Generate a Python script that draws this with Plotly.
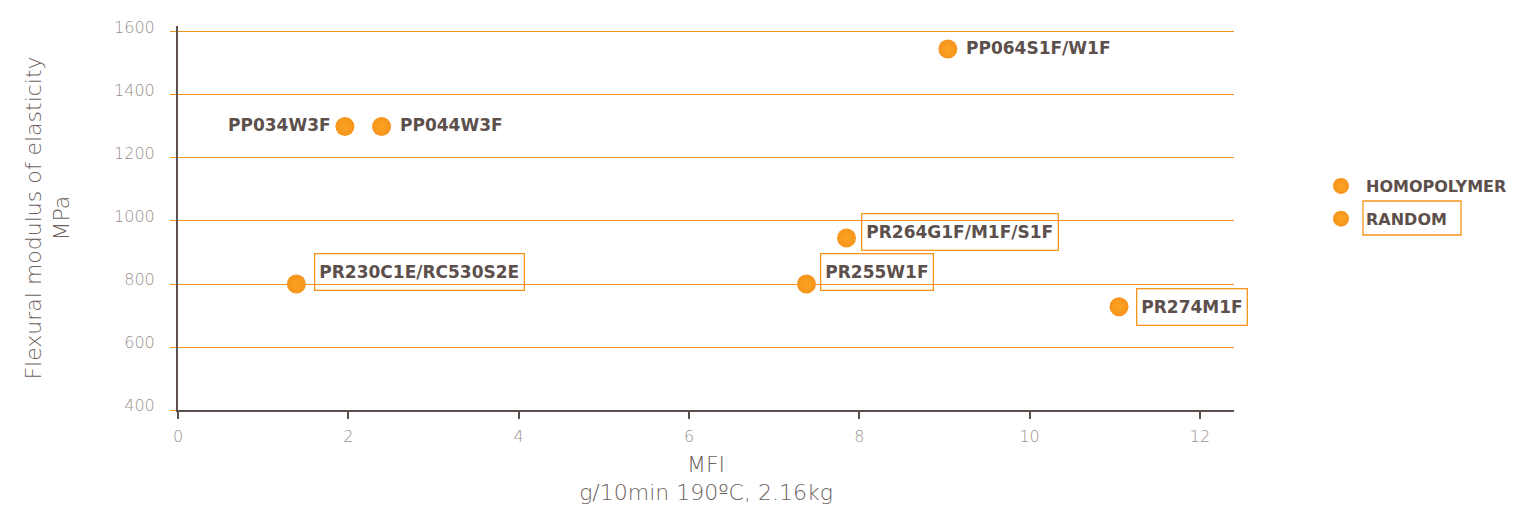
import plotly.graph_objects as go

# ---- data ----
homo_names = ["PP064S1F/W1F", "PP034W3F", "PP044W3F"]
homo_mfi = [9.04, 1.96, 2.39]
homo_mod = [1546, 1300, 1300]

rand_names = ["PR230C1E/RC530S2E", "PR264G1F/M1F/S1F", "PR255W1F", "PR274M1F"]
rand_mfi = [1.39, 7.85, 7.38, 11.05]
rand_mod = [800, 946, 800, 728]

x_ticks = [0, 2, 4, 6, 8, 10, 12]
y_ticks = [400, 600, 800, 1000, 1200, 1400, 1600]

ORANGE = "#f7941d"
DARK = "#5c4f4c"
GRAY = "#9b908d"
TITLE = "#6d6260"
FONT = "DejaVu Sans"
LFONT = "DejaVu Sans"

OX, OY = 7, 7  # page offset compensation
L, R, T, B = 177 - OX, 1233 - OX, 25 - OY, 409 - OY
PW, PH = R - L, B - T

marker = dict(size=19, color=ORANGE,
              gradient=dict(type="radial", color="#faa320"),
              line=dict(width=0))

fig = go.Figure()
fig.add_trace(go.Scatter(x=homo_mfi, y=homo_mod, mode="markers", name="HOMOPOLYMER",
                         marker=marker, legendgroup="h", hoverinfo="skip"))
fig.add_trace(go.Scatter(x=rand_mfi, y=rand_mod, mode="markers", name="RANDOM",
                         marker=marker, legendgroup="r", hoverinfo="skip"))

lab_font = dict(family=LFONT, size=17, color=DARK, weight="bold")
# homopolymer labels (no box)
homo_side = ["right", "left", "right"]
for n, x, y, s in zip(homo_names, homo_mfi, homo_mod, homo_side):
    fig.add_annotation(x=x, y=y, text=n, showarrow=False, font=lab_font,
                       xanchor="left" if s == "right" else "right",
                       xshift=16 if s == "right" else -12, yshift=1)
# random labels (boxed)
rand_xshift = [18, 14, 14, 17]
rand_yshift = [12, 6, 12, 0]
for n, x, y, xs, ys in zip(rand_names, rand_mfi, rand_mod, rand_xshift, rand_yshift):
    fig.add_annotation(x=x, y=y, text=n, showarrow=False, font=lab_font,
                       xanchor="left", xshift=xs, yshift=ys, height=27,
                       bordercolor=ORANGE, borderwidth=1.3, borderpad=4,
                       bgcolor="rgba(255,255,255,0)")

fig.update_layout(
    width=1514, height=507,
    margin=dict(l=L, r=1514 - R, t=T, b=507 - B, autoexpand=False),
    plot_bgcolor="white", paper_bgcolor="white",
    showlegend=True,
    legend=dict(x=(1315 - OX - L) / PW, y=(B - (168 - OY)) / PH, xanchor="left", yanchor="top",
                font=dict(family=LFONT, size=16, color=DARK, weight="bold"),
                tracegroupgap=9, itemwidth=40, bgcolor="rgba(0,0,0,0)"),
    xaxis=dict(range=[0, 12.4], tickvals=x_ticks, showgrid=False, zeroline=False,
               automargin=False,
               showline=True, linecolor=DARK, linewidth=2,
               ticks="outside", ticklen=7, tickcolor=DARK, tickwidth=2,
               ticklabelstandoff=4,
               tickfont=dict(family=FONT, size=16, color=GRAY, weight=200),
               title=dict(text="MFI<br>g/10min 190ºC, 2.16kg",
                          font=dict(family=FONT, size=22, color=TITLE, weight=200),
                          standoff=11)),
    yaxis=dict(range=[400, 1619], tickvals=y_ticks, showgrid=True, gridcolor=ORANGE,
               gridwidth=1, zeroline=False, automargin=False,
               showline=True, linecolor=DARK, linewidth=2,
               ticks="outside", ticklen=6, tickcolor=ORANGE, tickwidth=1,
               ticklabelshift=-5, ticklabelstandoff=12,
               tickfont=dict(family=FONT, size=16, color=GRAY, weight=200),
               title=dict(text="Flexural modulus of elasticity<br>MPa",
                          font=dict(family=FONT, size=22, color=TITLE, weight=200),
                          standoff=38)),
)

# box around RANDOM legend entry
fig.add_shape(type="rect", xref="paper", yref="paper",
              x0=(1362 - OX - L) / PW, x1=(1460 - OX - L) / PW,
              y0=(B - (234 - OY)) / PH, y1=(B - (200 - OY)) / PH,
              line=dict(color=ORANGE, width=1.3))

fig.write_html("out.html")
